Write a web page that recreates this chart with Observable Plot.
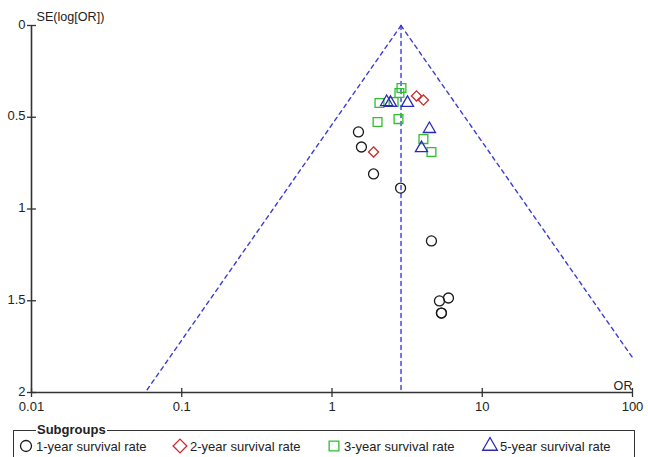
<!DOCTYPE html>
<html>
<head>
<meta charset="utf-8">
<script src="https://cdn.jsdelivr.net/npm/d3@7"></script>
<script src="https://cdn.jsdelivr.net/npm/@observablehq/plot@0.6"></script>
<style>
  html, body { margin: 0; padding: 0; background: #fff; }
  body { width: 648px; height: 457px; position: relative; overflow: hidden;
         font-family: "Liberation Sans", Arial, sans-serif; }
  #chart { position: absolute; left: 0; top: 0; }
  #legend { position: absolute; left: 13px; top: 430px; width: 622px; height: 40px;
            border: 1px solid #333; box-sizing: border-box; }
  #legend .title { position: absolute; left: 22px; top: -8px; background: #fff; padding: 0 1px;
                   font-weight: bold; font-size: 13px; color: #222; line-height: 14px; }
  #legend .item { position: absolute; top: 7px; display: flex; align-items: center;
                  font-size: 13px; color: #222; white-space: nowrap; }
  #legend svg { margin-right: 3px; overflow: visible; }
</style>
</head>
<body>
<div id="chart"></div>
<div id="legend"><span class="title">Subgroups</span></div>
<script>
// Funnel plot of odds ratios against their standard errors, by subgroup
const pooledOR = 2.88;

const oneYearOR = [1.50, 1.57, 1.89, 2.86, 4.59, 5.19, 5.96, 5.35, 5.35];
const oneYearSE = [0.580, 0.662, 0.809, 0.886, 1.174, 1.501, 1.485, 1.567, 1.567];

const twoYearOR = [3.65, 4.06, 1.89];
const twoYearSE = [0.384, 0.406, 0.689];

const threeYearOR = [2.90, 2.81, 2.07, 2.57, 2.01, 2.77, 4.06, 4.59];
const threeYearSE = [0.341, 0.368, 0.422, 0.417, 0.526, 0.510, 0.619, 0.689];

const fiveYearOR = [2.31, 2.45, 3.18, 4.45, 3.94];
const fiveYearSE = [0.417, 0.422, 0.422, 0.564, 0.668];

const subgroupNames = ["1-year survival rate", "2-year survival rate", "3-year survival rate", "5-year survival rate"];
const subgroupSymbols = ["circle", "diamond2", "square2", "triangle2"];
const subgroupColors = ["#1a1a1a", "#cc2a2a", "#2fbf2f", "#2a2ab8"];
const subgroupSizes = [5, 4.6, 5.6, 5.8];

const xTicks = [0.01, 0.1, 1, 10, 100];
const yTicks = [0, 0.5, 1, 1.5, 2];

const groups = [
  [oneYearOR, oneYearSE],
  [twoYearOR, twoYearSE],
  [threeYearOR, threeYearSE],
  [fiveYearOR, fiveYearSE]
];
const studies = groups.flatMap(([or, se], g) =>
  or.map((v, i) => ({or: v, se: se[i], group: g}))
);

// 95% pseudo-confidence limits: log(OR) = log(pooled) ± 1.96·SE, clipped at the frame
const lnP = Math.log(pooledOR);
const seMax = 2;
const leftLimit = [{or: pooledOR, se: 0}, {or: Math.exp(lnP - 1.96 * seMax), se: seMax}];
const rightSeAt100 = (Math.log(100) - lnP) / 1.96;
const rightLimit = [{or: pooledOR, se: 0}, {or: 100, se: rightSeAt100}];
const centre = [{or: pooledOR, se: 0}, {or: pooledOR, se: seMax}];

// short cross-ticks that straddle the axis lines
const hTick = {draw(ctx) { ctx.moveTo(-4.5, 0); ctx.lineTo(4.5, 0); }};
const vTick = {draw(ctx) { ctx.moveTo(0, -4.5); ctx.lineTo(0, 4.5); }};

const funnelStyle = {x: "or", y: "se", stroke: "#3b3bd6", strokeWidth: 1.4, strokeDasharray: "4,4"};

const plot = Plot.plot({
  width: 648,
  height: 420,
  marginLeft: 31,
  marginRight: 16,
  marginTop: 25,
  marginBottom: 28,
  style: {fontFamily: "'Liberation Sans', Arial, sans-serif", fontSize: "13px", color: "#222"},
  x: {type: "log", domain: [0.01, 100]},
  y: {domain: [0, 2], reverse: true},
  marks: [
    Plot.line(leftLimit, funnelStyle),
    Plot.line(rightLimit, funnelStyle),
    Plot.line(centre, funnelStyle),
    Plot.ruleX([0.01], {stroke: "#333", strokeWidth: 1.6}),
    Plot.ruleY([2], {stroke: "#333", strokeWidth: 1.6}),
    Plot.dot(yTicks, {x: () => 0.01, y: d => d, symbol: hTick, stroke: "#333", strokeWidth: 1.3}),
    Plot.dot(xTicks, {x: d => d, y: () => 2, symbol: vTick, stroke: "#333", strokeWidth: 1.3}),
    Plot.axisY({ticks: yTicks, tickSize: 0, tickPadding: 6, tickFormat: d => String(d), label: null, fontSize: 13, dy: -1}),
    Plot.axisX({ticks: xTicks, tickSize: 0, tickPadding: 9, tickFormat: d => String(d), label: null, fontSize: 13}),
    Plot.text(["SE(log[OR])"], {x: () => 0.01, y: () => 0, text: d => d, textAnchor: "start", dx: 5, dy: -9, fontSize: 12.6, fill: "#222"}),
    Plot.text(["OR"], {x: () => 100, y: () => 2, text: d => d, textAnchor: "end", dy: -7, fontSize: 12.6, fill: "#222"}),
    ...subgroupNames.map((_, g) =>
      Plot.dot(studies.filter(d => d.group === g), {
        x: "or", y: "se",
        symbol: subgroupSymbols[g],
        r: subgroupSizes[g],
        stroke: subgroupColors[g],
        strokeWidth: 1.3,
        fill: "none"
      })
    )
  ]
});
document.getElementById("chart").append(plot);

// subgroup key
const legend = document.getElementById("legend");
const itemLeft = [5, 159, 313, 469];
const shapes = [d3.symbolCircle, d3.symbolDiamond2, d3.symbolSquare2, d3.symbolTriangle2];
const keySizes = [5.5, 6.2, 6.2, 7];
subgroupNames.forEach((name, g) => {
  const item = document.createElement("div");
  item.className = "item";
  item.style.left = itemLeft[g] + "px";
  const r = keySizes[g];
  const path = d3.symbol(shapes[g], Math.PI * r * r)();
  const svg = d3.create("svg").attr("width", 14).attr("height", 16).attr("viewBox", "-7 -8 14 16");
  svg.append("path").attr("d", path).attr("fill", "none").attr("stroke", subgroupColors[g]).attr("stroke-width", 1.3);
  item.append(svg.node());
  const label = document.createElement("span");
  label.textContent = name;
  item.append(label);
  legend.append(item);
});
</script>
</body>
</html>
